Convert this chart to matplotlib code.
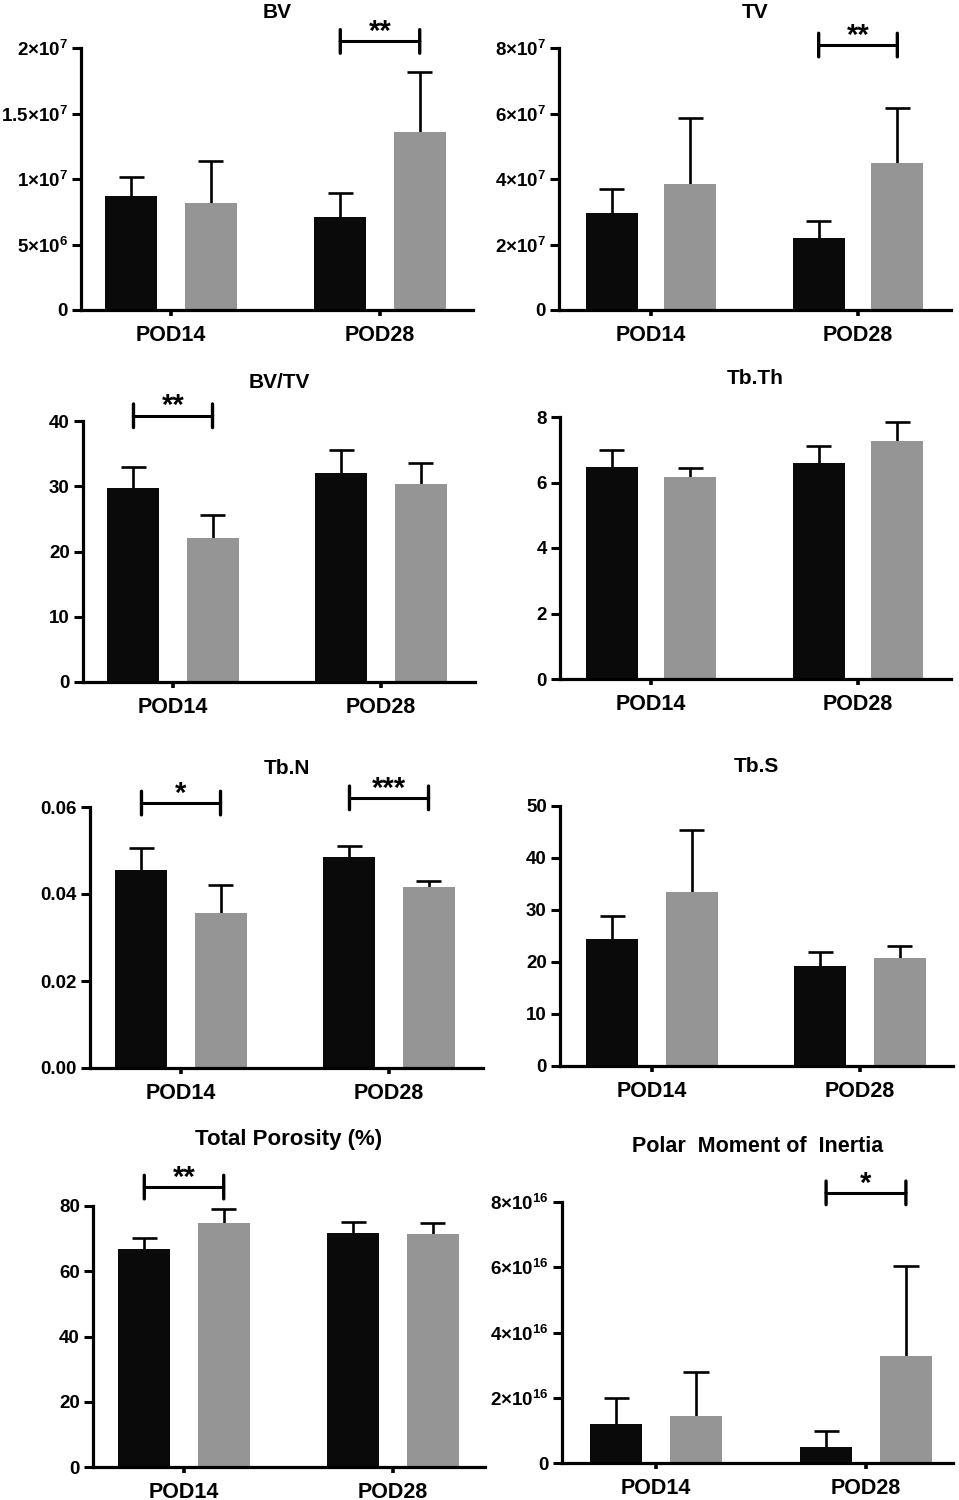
import matplotlib
matplotlib.use('Agg')
import matplotlib.pyplot as plt

plt.rcParams['font.family'] = ['Liberation Sans', 'DejaVu Sans']
plt.rcParams['font.weight'] = 'bold'
plt.rcParams['mathtext.fontset'] = 'custom'
plt.rcParams['mathtext.rm'] = 'Liberation Sans:bold'
plt.rcParams['mathtext.it'] = 'Liberation Sans:bold'
plt.rcParams['mathtext.bf'] = 'Liberation Sans:bold'

groups = ['POD14', 'POD28']
titles = ['BV', 'TV', 'BV/TV', 'Tb.Th', 'Tb.N', 'Tb.S',
          'Total Porosity (%)', 'Polar  Moment of  Inertia']

# means and upper SD, [POD14, POD28]
black_mean = [
    [8.7e6, 7.1e6],
    [2.96e7, 2.2e7],
    [29.7, 32.0],
    [6.47, 6.6],
    [0.0455, 0.0485],
    [24.4, 19.2],
    [66.8, 71.7],
    [1.2e16, 0.49e16],
]
black_err = [
    [1.45e6, 1.85e6],
    [0.73e7, 0.52e7],
    [3.2, 3.6],
    [0.52, 0.51],
    [0.0051, 0.0025],
    [4.4, 2.7],
    [3.4, 3.4],
    [0.79e16, 0.49e16],
]
grey_mean = [
    [8.17e6, 13.6e6],
    [3.85e7, 4.49e7],
    [22.1, 30.3],
    [6.17, 7.27],
    [0.0356, 0.0416],
    [33.5, 20.8],
    [74.8, 71.4],
    [1.44e16, 3.28e16],
]
grey_err = [
    [3.2e6, 4.6e6],
    [2.0e7, 1.68e7],
    [3.5, 3.3],
    [0.27, 0.58],
    [0.0065, 0.0014],
    [11.9, 2.3],
    [4.3, 3.4],
    [1.35e16, 2.76e16],
]

y_ticks = [
    [0, 5e6, 1e7, 1.5e7, 2e7],
    [0, 2e7, 4e7, 6e7, 8e7],
    [0, 10, 20, 30, 40],
    [0, 2, 4, 6, 8],
    [0, 0.02, 0.04, 0.06],
    [0, 10, 20, 30, 40, 50],
    [0, 20, 40, 60, 80],
    [0, 2e16, 4e16, 6e16, 8e16],
]
y_labels = [
    ['0', '5×10$^{6}$', '1×10$^{7}$', '1.5×10$^{7}$', '2×10$^{7}$'],
    ['0', '2×10$^{7}$', '4×10$^{7}$', '6×10$^{7}$', '8×10$^{7}$'],
    ['0', '10', '20', '30', '40'],
    ['0', '2', '4', '6', '8'],
    ['0.00', '0.02', '0.04', '0.06'],
    ['0', '10', '20', '30', '40', '50'],
    ['0', '20', '40', '60', '80'],
    ['0', '2×10$^{16}$', '4×10$^{16}$', '6×10$^{16}$', '8×10$^{16}$'],
]

# significance: (panel, group, stars, bracket height)
sig = [
    (0, 1, '**', 2.05e7),
    (1, 1, '**', 8.09e7),
    (2, 0, '**', 40.8),
    (4, 0, '*', 0.0609),
    (4, 1, '***', 0.0621),
    (6, 0, '**', 85.8),
    (7, 1, '*', 8.28e16),
]

# panel frames in pixels: left, right, top, bottom, tick POD14, tick POD28
frames = [
    (81, 473, 48, 310, 171, 380),
    (559, 951, 48, 310, 651, 858),
    (83, 475, 421, 682, 173, 381),
    (560, 951, 417, 679, 651, 858),
    (90, 483, 807, 1068, 181, 389),
    (560, 953, 806, 1066, 652, 860),
    (93, 485, 1206, 1467, 184, 393),
    (562, 953, 1202, 1463, 656, 866),
]
title_gap = [35, 35, 38, 39, 39, 39, 66, 55]
title_size = [15, 15, 15, 15, 15, 15, 16, 15.5]

W, H = 959, 1500
fig = plt.figure(figsize=(W / 100, H / 100), dpi=100)

off = 0.19
bw = 0.25
capw = 0.06
for i in range(8):
    l, r, t, b, t0, t1 = frames[i]
    ax = fig.add_axes([l / W, 1 - b / H, (r - l) / W, (b - t) / H])
    sp = t1 - t0
    ax.set_xlim((l - t0) / sp, 1 + (r - t1) / sp)
    ax.set_ylim(0, y_ticks[i][-1])
    xs = [0, 1]
    for sign, means, errs, col in ((-1, black_mean[i], black_err[i], '#0a0a0a'),
                                   (1, grey_mean[i], grey_err[i], '#959595')):
        bx = [x + sign * off for x in xs]
        ax.bar(bx, means, bw, color=col, zorder=2)
        tops = [m + e for m, e in zip(means, errs)]
        ax.vlines(bx, means, tops, color='black', lw=1.9, zorder=1)
        ax.hlines(tops, [x - capw for x in bx], [x + capw for x in bx],
                  color='black', lw=1.9, zorder=1)
    for s in ['top', 'right']:
        ax.spines[s].set_visible(False)
    for s in ['left', 'bottom']:
        ax.spines[s].set_linewidth(2.3)
        ax.spines[s].set_zorder(3)
    ax.set_yticks(y_ticks[i])
    ax.set_yticklabels(y_labels[i])
    ax.set_xticks(xs)
    ax.set_xticklabels(groups)
    ax.tick_params(axis='y', length=6.5, width=2.2, pad=3, labelsize=13.5)
    ax.tick_params(axis='x', length=4.5, width=2.6, pad=6, labelsize=15.5)
    for lab in ax.get_xticklabels() + ax.get_yticklabels():
        lab.set_fontweight('bold')
    ax.annotate(titles[i], xy=(0.5, 1), xycoords='axes fraction',
                xytext=(0, title_gap[i] * 0.72), textcoords='offset points',
                ha='center', va='center', fontsize=title_size[i], fontweight='bold')
    for p, g, stars, yb in sig:
        if p != i:
            continue
        x0, x1 = g - off, g + off
        ax.plot([x0, x1], [yb, yb], color='black', lw=2.2, clip_on=False,
                solid_capstyle='butt')
        for xe in (x0, x1):
            ax.annotate('', xy=(xe, yb), xytext=(0, 8.5), textcoords='offset points',
                        annotation_clip=False,
                        arrowprops=dict(arrowstyle='-', lw=2.4, color='black',
                                        shrinkA=0, shrinkB=0))
            ax.annotate('', xy=(xe, yb), xytext=(0, -8.5), textcoords='offset points',
                        annotation_clip=False,
                        arrowprops=dict(arrowstyle='-', lw=2.4, color='black',
                                        shrinkA=0, shrinkB=0))
        ax.annotate(stars, xy=(g, yb), xytext=(0, 1), textcoords='offset points',
                    ha='center', va='baseline', fontsize=21, fontweight='bold',
                    annotation_clip=False)

fig.savefig('out.png', dpi=100)
